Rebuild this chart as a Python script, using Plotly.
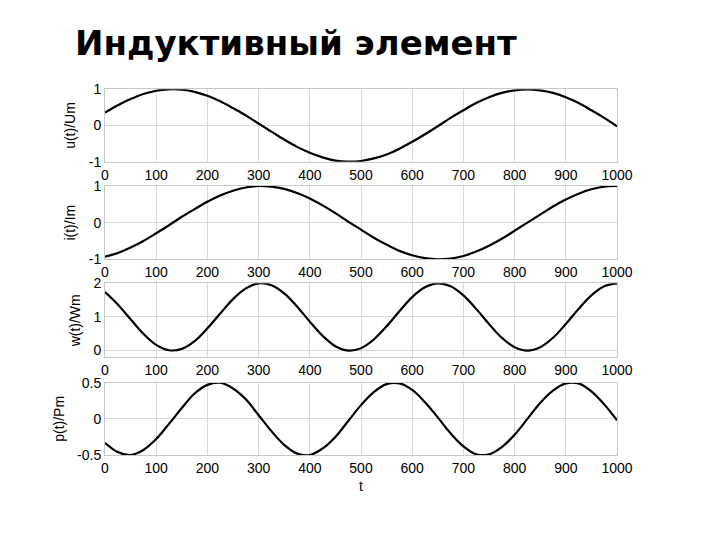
import plotly.graph_objects as go
from plotly.subplots import make_subplots

# time samples (at steps of 25)
t = [0, 25, 50, 75, 100, 125, 150, 175, 200, 225, 250, 275, 300, 325, 350, 375, 400,
     425, 450, 475, 500, 525, 550, 575, 600, 625, 650, 675, 700, 725, 750, 775, 800,
     825, 850, 875, 900, 925, 950, 975, 1000]

u_norm = [0.36, 0.56, 0.73, 0.87, 0.96, 1.00, 0.99, 0.93, 0.82, 0.67, 0.48, 0.28, 0.05,
          -0.17, -0.39, -0.59, -0.75, -0.88, -0.97, -1.00, -0.98, -0.91, -0.80, -0.64,
          -0.45, -0.24, -0.02, 0.21, 0.42, 0.62, 0.78, 0.90, 0.97, 1.00, 0.97, 0.90, 0.78,
          0.62, 0.42, 0.21, -0.02]

i_norm = [-0.93, -0.83, -0.68, -0.50, -0.29, -0.07, 0.16, 0.37, 0.57, 0.74, 0.87, 0.96,
          1.00, 0.98, 0.92, 0.81, 0.66, 0.47, 0.26, 0.03, -0.19, -0.41, -0.60, -0.77,
          -0.89, -0.97, -1.00, -0.98, -0.91, -0.79, -0.63, -0.44, -0.22, 0.00, 0.22, 0.44,
          0.63, 0.79, 0.91, 0.98, 1.00]

w_norm = [1.74, 1.37, 0.93, 0.50, 0.17, 0.01, 0.05, 0.28, 0.66, 1.10, 1.53, 1.85, 2.00,
          1.94, 1.70, 1.31, 0.86, 0.44, 0.13, 0.00, 0.07, 0.33, 0.72, 1.17, 1.59, 1.88,
          2.00, 1.91, 1.64, 1.24, 0.79, 0.38, 0.10, 0.00, 0.10, 0.38, 0.79, 1.24, 1.64,
          1.91, 2.00]

p_norm = [-0.33, -0.46, -0.50, -0.43, -0.28, -0.07, 0.15, 0.35, 0.47, 0.50, 0.42, 0.27,
          0.05, -0.17, -0.36, -0.48, -0.50, -0.41, -0.25, -0.03, 0.19, 0.37, 0.48, 0.49,
          0.40, 0.23, 0.02, -0.20, -0.38, -0.49, -0.49, -0.39, -0.22, 0.00, 0.22, 0.39,
          0.49, 0.49, 0.38, 0.20, -0.02]

series = [u_norm, i_norm, w_norm, p_norm]
y_titles = ["u(t)/Um", "i(t)/Im", "w(t)/Wm", "p(t)/Pm"]
y_ranges = [[-1, 1], [-1, 1], [-0.2, 2], [-0.5, 0.5]]
y_ticks = [[-1, 0, 1], [-1, 0, 1], [0, 1, 2], [-0.5, 0, 0.5]]
y_ticktext = [["-1", "0", "1"], ["-1", "0", "1"], ["0", "1", "2"], ["-0.5", "0", "0.5"]]
x_ticks = [0, 100, 200, 300, 400, 500, 600, 700, 800, 900, 1000]
title_text = "Индуктивный элемент"

W, H = 720, 540
OFF = 8  # page body margin offset
x_dom = [(105 - OFF) / W, (617 - OFF) / W]
y_px = [(89.3, 161.7), (186, 259.3), (283.3, 357.3), (382.7, 455)]

fig = make_subplots(rows=4, cols=1)
font = "Liberation Sans, Arial, sans-serif"
for k, ys in enumerate(series):
    r = k + 1
    fig.add_trace(go.Scatter(x=t, y=ys, mode="lines", line=dict(color="black", width=2.2, shape="spline", smoothing=1.0),
                             showlegend=False), row=r, col=1)
    top, bot = y_px[k]
    fig.update_yaxes(row=r, col=1, domain=[1 - (bot - OFF) / H, 1 - (top - OFF) / H], range=y_ranges[k],
                     tickvals=y_ticks[k], ticktext=y_ticktext[k], automargin=False,
                     title=dict(text=y_titles[k], font=dict(size=14, color="black", family=font), standoff=9),
                     showgrid=True, gridcolor="#d9d9d9", gridwidth=1, zeroline=False,
                     showline=True, linecolor="#c8c8c8", linewidth=1, mirror=True,
                     ticks="", tickfont=dict(size=14, color="black", family=font))
    fig.update_xaxes(row=r, col=1, domain=x_dom, range=[0, 1000], tickvals=x_ticks, automargin=False,
                     showgrid=True, gridcolor="#d9d9d9", gridwidth=1, zeroline=False,
                     showline=True, linecolor="#c8c8c8", linewidth=1, mirror=True,
                     ticks="", tickfont=dict(size=14, color="black", family=font))

fig.update_xaxes(row=4, col=1, title=dict(text="t", font=dict(size=14, color="black", family=font), standoff=6))

fig.update_layout(
    width=W, height=H,
    margin=dict(l=0, r=0, t=0, b=0),
    paper_bgcolor="white", plot_bgcolor="white",
    title=dict(text="<b>" + title_text + "</b>", x=67 / W, xanchor="left", xref="container",
               y=1 - 35 / H, yanchor="middle", yref="container",
               font=dict(size=34, color="black", family="DejaVu Sans, sans-serif")),
)

fig.write_html("out.html")
